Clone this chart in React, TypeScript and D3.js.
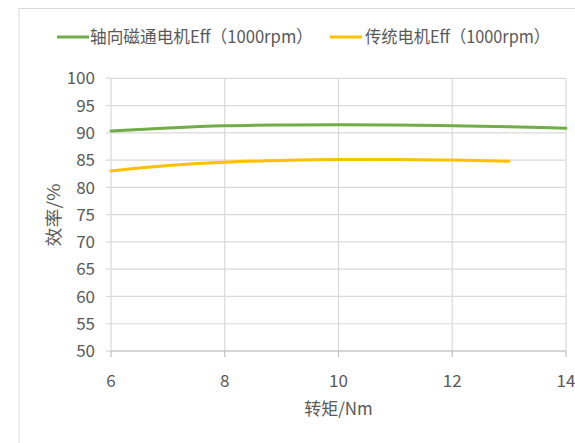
import React from "react";
import * as d3 from "d3";

const torque = [6, 7, 8, 9, 10, 11, 12, 13, 14];
const axialEff = [90.35, 90.9, 91.3, 91.45, 91.5, 91.45, 91.3, 91.1, 90.85];
const torqueConv = [6, 7, 8, 9, 10, 11, 12, 13];
const convEff = [83.0, 84.0, 84.6, 84.95, 85.1, 85.1, 85.0, 84.8];
const xTicks = [6, 8, 10, 12, 14];
const yTicks = [50, 55, 60, 65, 70, 75, 80, 85, 90, 95, 100];
const seriesNames = ["轴向磁通电机Eff（1000rpm）", "传统电机Eff（1000rpm）"];
const xTitle = "转矩/Nm";
const yTitle = "效率/%";

const W = 575;
const H = 443;
const L = 111, R = 566, T = 78.3, B = 351;
const FONT = "'Noto Sans CJK SC', 'Noto Sans', sans-serif";
const TXT = "#595959";
const GRID = "#d9d9d9";

export default function App() {
  const x = d3.scaleLinear().domain([6, 14]).range([L, R]);
  const y = d3.scaleLinear().domain([50, 100]).range([B, T]);
  const line = d3
    .line<[number, number]>()
    .x((d) => x(d[0]))
    .y((d) => y(d[1]))
    .curve(d3.curveMonotoneX);
  const g1 = torque.map((t, i) => [t, axialEff[i]] as [number, number]);
  const g2 = torqueConv.map((t, i) => [t, convEff[i]] as [number, number]);

  return (
    <div style={{ position: "fixed", left: 0, top: 0, width: W, height: H, background: "#fff" }}>
      <svg width={W} height={H} style={{ display: "block" }} fontFamily={FONT}>
        <rect x={0} y={0} width={W} height={H} fill="#fff" />
        <rect x={19} y={8.5} width={W + 20} height={H + 20} fill="#fff" stroke={GRID} strokeWidth={1} />
        {yTicks.map((t) => (
          <line key={"h" + t} x1={L} x2={R} y1={y(t)} y2={y(t)} stroke={GRID} strokeWidth={1.2} />
        ))}
        {xTicks.map((t) => (
          <line key={"v" + t} x1={x(t)} x2={x(t)} y1={T} y2={B} stroke={GRID} strokeWidth={1.2} />
        ))}
        {yTicks.map((t) => (
          <line key={"yt" + t} x1={L - 5} x2={L} y1={y(t)} y2={y(t)} stroke={GRID} strokeWidth={1.2} />
        ))}
        <line x1={L} x2={R} y1={B} y2={B} stroke="#bfbfbf" strokeWidth={1.2} />
        {xTicks.map((t) => (
          <line key={"xt" + t} x1={x(t)} x2={x(t)} y1={B} y2={B + 6} stroke="#bfbfbf" strokeWidth={1.2} />
        ))}
        {yTicks.map((t) => (
          <text key={"yl" + t} x={95} y={y(t)} dy="0.36em" textAnchor="end" fontSize={17} fill={TXT}>
            {t}
          </text>
        ))}
        {xTicks.map((t) => (
          <text key={"xl" + t} x={x(t)} y={381} dy="0.36em" textAnchor="middle" fontSize={17} fill={TXT}>
            {t}
          </text>
        ))}
        <text x={338.5} y={409} dy="0.36em" textAnchor="middle" fontSize={17} fill={TXT}>
          {xTitle}
        </text>
        <text
          transform={`translate(54,215) rotate(-90)`}
          dy="0.36em"
          textAnchor="middle"
          fontSize={17}
          fill={TXT}
          textLength={63}
          lengthAdjust="spacingAndGlyphs"
        >
          {yTitle}
        </text>
        <path d={line(g1) || ""} fill="none" stroke="#70ad47" strokeWidth={3} strokeLinecap="round" />
        <path d={line(g2) || ""} fill="none" stroke="#ffc000" strokeWidth={3} strokeLinecap="round" />
        <line x1={57} x2={89} y1={37} y2={37} stroke="#70ad47" strokeWidth={3} />
        <text x={90} y={37} dy="0.36em" fontSize={17} fill={TXT} textLength={223} lengthAdjust="spacingAndGlyphs">
          {seriesNames[0]}
        </text>
        <line x1={330} x2={362} y1={37} y2={37} stroke="#ffc000" strokeWidth={3} />
        <text x={365} y={37} dy="0.36em" fontSize={17} fill={TXT} textLength={185} lengthAdjust="spacingAndGlyphs">
          {seriesNames[1]}
        </text>
      </svg>
    </div>
  );
}
